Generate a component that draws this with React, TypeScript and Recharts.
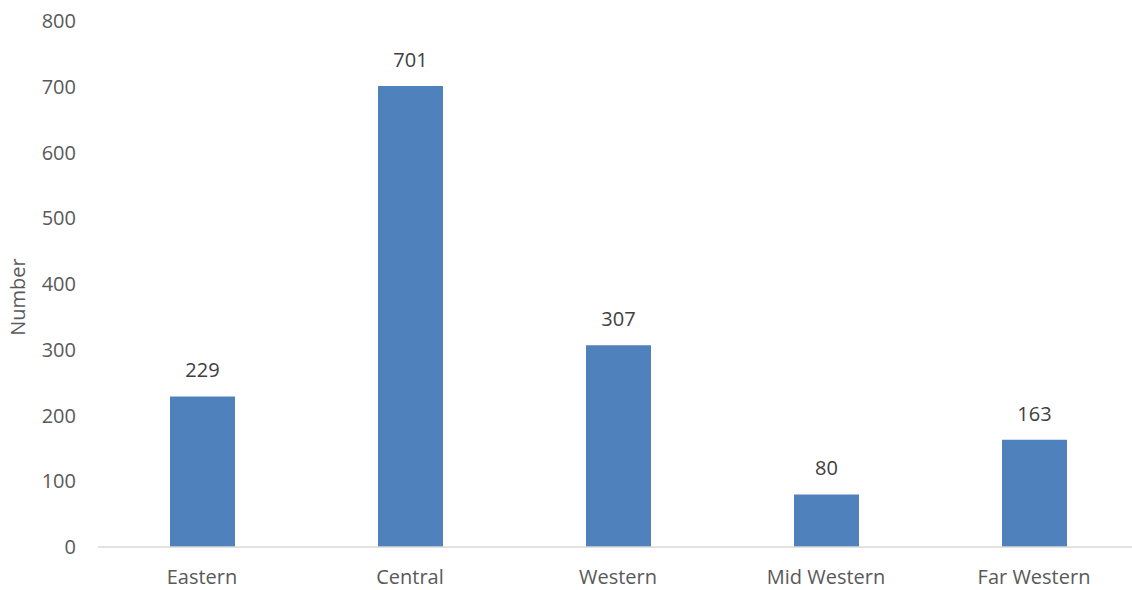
import { BarChart, Bar, XAxis, YAxis, LabelList } from 'recharts';

const regions = ['Eastern', 'Central', 'Western', 'Mid Western', 'Far Western'];
const counts = [229, 701, 307, 80, 163];
const yTicks = [0, 100, 200, 300, 400, 500, 600, 700, 800];

const chartData = regions.map((name, i) => ({ name, value: counts[i] }));

const font = '"Open Sans", sans-serif';
const textColor = '#595959';

const App = () => {
  return (
    <div style={{ position: 'absolute', top: 0, left: 0, width: 1132, height: 590, overflow: 'hidden', background: '#fff' }}>
      <BarChart
        width={1140}
        height={590}
        data={chartData}
        margin={{ top: 21, right: 2, bottom: 0, left: 0 }}
      >
        <XAxis
          dataKey='name'
          tickLine={false}
          tickSize={0}
          tickMargin={23}
          height={43}
          axisLine={{ stroke: '#D9D9D9', strokeWidth: 1.5 }}
          tick={{ fill: textColor, fontSize: 20, fontFamily: font }}
        />
        <YAxis
          width={98}
          domain={[0, 800]}
          ticks={yTicks}
          axisLine={false}
          tickLine={false}
          tickSize={0}
          tickMargin={22}
          tick={{ fill: textColor, fontSize: 20, fontFamily: font }}
          label={{
            value: 'Number',
            angle: -90,
            position: 'insideLeft',
            offset: 18,
            dy: 13,
            style: { fill: textColor, fontSize: 20, fontFamily: font, textAnchor: 'middle' },
          }}
        />
        <Bar dataKey='value' fill='#4F81BD' barSize={65} isAnimationActive={false}>
          <LabelList
            dataKey='value'
            position='top'
            offset={19}
            style={{ fill: '#404040', fontSize: 20, fontFamily: font }}
          />
        </Bar>
      </BarChart>
    </div>
  );
};

export default App;
